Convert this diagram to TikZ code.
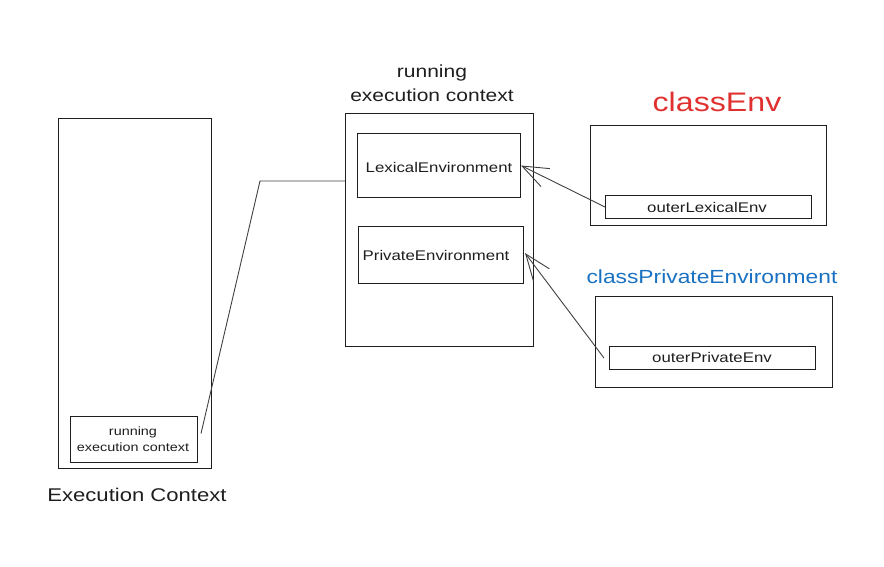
\documentclass[tikz,border=0pt]{standalone}
\usepackage{fontspec}
\setmainfont[FakeStretch=1.2]{Liberation Sans}
\usetikzlibrary{arrows.meta}
\definecolor{ink}{HTML}{1E1E1E}
\definecolor{exred}{HTML}{E03131}
\definecolor{exblue}{HTML}{1971C2}
\tikzset{
  box/.style={draw=ink, line width=1pt, inner sep=0pt, anchor=north west},
  lbl/.style={text=ink, inner sep=0pt, align=center},
  conn/.style={draw=ink!85, line width=0.9pt},
  arr/.style={conn, -{Straight Barb[length=26pt,width=20pt,line width=0.9pt]}},
}
\begin{document}
\begin{tikzpicture}[x=1pt,y=-1pt]
\useasboundingbox (0,0) rectangle (884,566);
% left execution context stack
\node[box, minimum width=153pt, minimum height=350pt] (ec) at (58,118) {};
\node[box, minimum width=127pt, minimum height=46pt] (rec) at (70,416) {};
\node[lbl, font=\fontsize{12}{16}\selectfont] (rect) at (133,439) {running\\execution context};
\node[lbl, font=\fontsize{18.4}{22}\selectfont] (eclbl) at (137,495) {Execution Context};
% middle running execution context
\node[box, minimum width=188pt, minimum height=233pt] (mid) at (345,113) {};
\node[lbl, font=\fontsize{17.5}{24}\selectfont] (midt) at (432,83) {running\\execution context};
\node[box, minimum width=163pt, minimum height=64pt] (lex) at (357,133) {};
\node[lbl, font=\fontsize{14}{16}\selectfont] (lext) at (439,167) {LexicalEnvironment};
\node[box, minimum width=165pt, minimum height=57pt] (priv) at (358,226) {};
\node[lbl, font=\fontsize{14}{16}\selectfont] (privt) at (436,255) {PrivateEnvironment};
% connector from stack to middle box
\coordinate (bend) at (260,181);
\draw[conn] (rec.east) ++(3,-6) coordinate (rs) -- (bend) -- (mid.west |- bend);
% classEnv
\node[lbl, text=exred, font=\fontsize{26.8}{30}\selectfont] (cet) at (717,102) {classEnv};
\node[box, minimum width=236pt, minimum height=100pt] (ce) at (590,125) {};
\node[box, minimum width=206pt, minimum height=23pt] (ole) at (605,195) {};
\node[lbl, font=\fontsize{14}{16}\selectfont] (olet) at (707,207) {outerLexicalEnv};
% classPrivateEnvironment
\node[lbl, text=exblue, font=\fontsize{19}{22}\selectfont] (cpt) at (712,277) {classPrivateEnvironment};
\node[box, minimum width=237pt, minimum height=91pt] (cp) at (595,296) {};
\node[box, minimum width=206pt, minimum height=23pt] (ope) at (609,346) {};
\node[lbl, font=\fontsize{14}{16}\selectfont] (opet) at (712,357) {outerPrivateEnv};
% arrows
\draw[arr] (ole.west) -- (lex.east);
\coordinate (pe) at (525,253);
\draw[arr] ([xshift=-5pt]ope.west) -- (pe);
\end{tikzpicture}
\end{document}
